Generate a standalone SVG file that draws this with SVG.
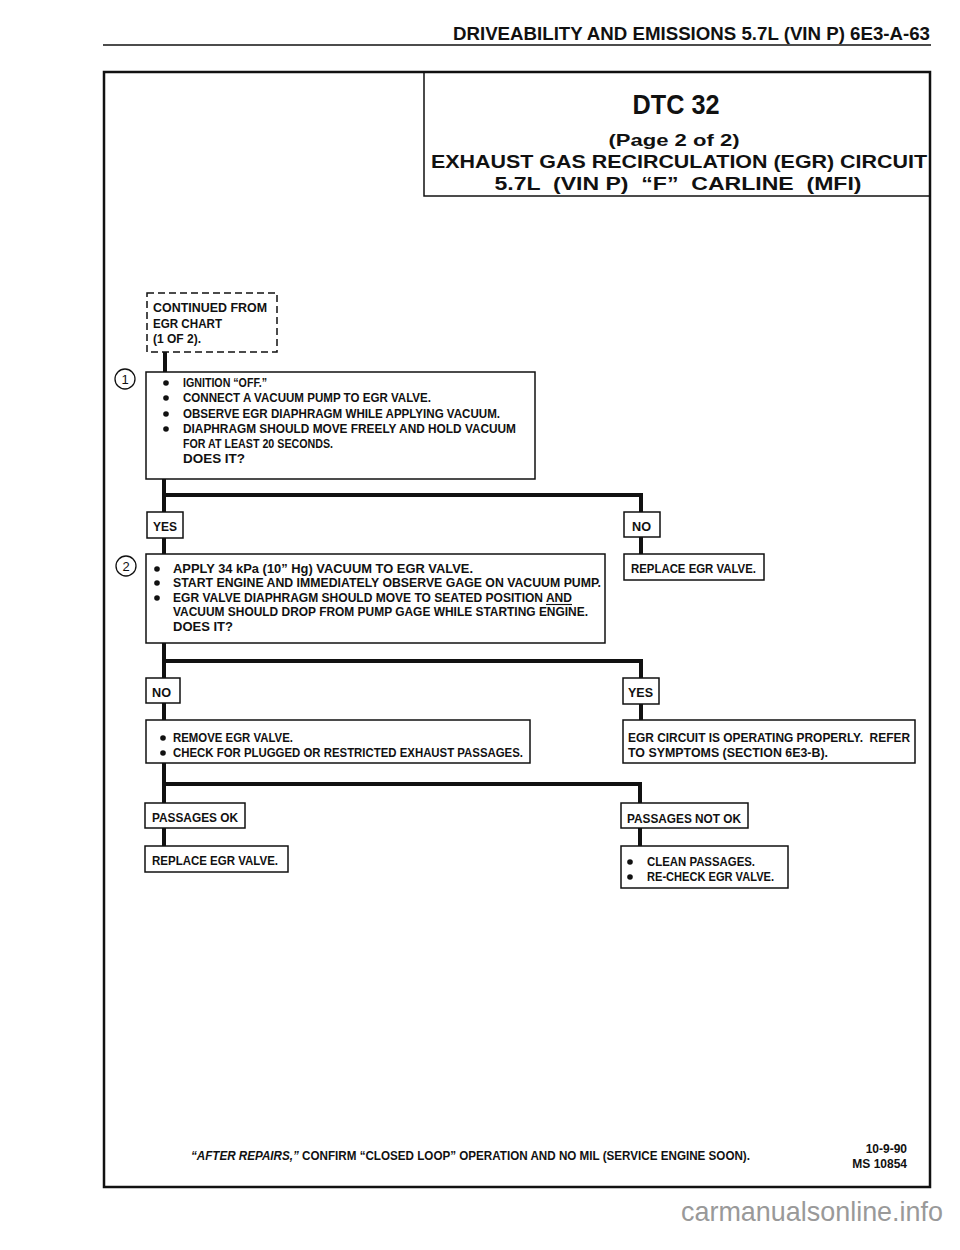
<svg xmlns="http://www.w3.org/2000/svg" width="960" height="1250" viewBox="0 0 960 1250">
<style>
.t{font-family:"Liberation Sans",Arial,sans-serif;font-weight:bold;font-size:12px;fill:#111}
.h{font-family:"Liberation Sans",Arial,sans-serif;font-weight:bold;fill:#111}
.box{fill:#fff;stroke:#111;stroke-width:1.5}
.dash{fill:none;stroke:#111;stroke-width:1.5;stroke-dasharray:7 4}
.wire{fill:none;stroke:#111;stroke-width:4;stroke-linejoin:miter}
.num{font-family:"Liberation Sans",Arial,sans-serif;font-size:13px;fill:#111}
.circ{fill:#fff;stroke:#111;stroke-width:1.3}
</style>
<rect width="960" height="1250" fill="#fff"/>
<g id="page-header">
<text class="h" x="453" y="40" font-size="17.5" textLength="477" lengthAdjust="spacingAndGlyphs">DRIVEABILITY AND EMISSIONS  5.7L  (VIN P)  6E3-A-63</text>
<line x1="103" y1="45" x2="931" y2="45" stroke="#111" stroke-width="1.6"/>
</g>
<g id="frame">
<rect x="104" y="72" width="826" height="1115" fill="none" stroke="#111" stroke-width="2.5"/>
</g>
<g id="title">
<rect x="424" y="72" width="506" height="124" fill="none" stroke="#111" stroke-width="1.5"/>
<text class="h" x="676" y="114" font-size="28" text-anchor="middle" textLength="87" lengthAdjust="spacingAndGlyphs">DTC 32</text>
<text class="h" x="674" y="146" font-size="17" text-anchor="middle" textLength="131" lengthAdjust="spacingAndGlyphs">(Page 2 of 2)</text>
<text class="h" x="679" y="168" font-size="19" text-anchor="middle" textLength="496" lengthAdjust="spacingAndGlyphs">EXHAUST GAS RECIRCULATION (EGR) CIRCUIT</text>
<text class="h" x="678" y="190" font-size="19" text-anchor="middle" textLength="367" lengthAdjust="spacingAndGlyphs" xml:space="preserve">5.7L  (VIN P)  “F”  CARLINE  (MFI)</text>
</g>
<g id="connectors">
<path class="wire" d="M165 352 V372"/>
<path class="wire" d="M164 479 V512 M164 495 H641 V512 M641 537 V554 M164 538 V554"/>
<path class="wire" d="M164 643 V678 M164 661 H641 V678 M641 704 V720 M164 703 V720"/>
<path class="wire" d="M164 763 V803 M164 784 H640 V803 M640 828 V846 M164 828 V846"/>
</g>
<g id="start">
<rect class="dash" x="147" y="293" width="130" height="59"/>
<text class="t" x="153" y="312" textLength="114" lengthAdjust="spacingAndGlyphs">CONTINUED FROM</text>
<text class="t" x="153" y="328" textLength="69" lengthAdjust="spacingAndGlyphs">EGR CHART</text>
<text class="t" x="153" y="343" textLength="48" lengthAdjust="spacingAndGlyphs">(1 OF 2).</text>
</g>
<g id="step1">
<circle class="circ" cx="125" cy="379" r="10"/>
<text class="num" x="125" y="383.5" text-anchor="middle">1</text>
<rect class="box" x="146" y="372" width="389" height="107"/>
<circle cx="166" cy="383" r="2.8" fill="#111"/>
<circle cx="166" cy="398" r="2.8" fill="#111"/>
<circle cx="166" cy="414" r="2.8" fill="#111"/>
<circle cx="166" cy="429" r="2.8" fill="#111"/>
<text class="t" x="183" y="387" textLength="84" lengthAdjust="spacingAndGlyphs">IGNITION “OFF.”</text>
<text class="t" x="183" y="402" textLength="248" lengthAdjust="spacingAndGlyphs">CONNECT A VACUUM PUMP TO EGR VALVE.</text>
<text class="t" x="183" y="418" textLength="317" lengthAdjust="spacingAndGlyphs">OBSERVE EGR DIAPHRAGM WHILE APPLYING VACUUM.</text>
<text class="t" x="183" y="433" textLength="333" lengthAdjust="spacingAndGlyphs">DIAPHRAGM SHOULD MOVE FREELY AND HOLD VACUUM</text>
<text class="t" x="183" y="448" textLength="150" lengthAdjust="spacingAndGlyphs">FOR AT LEAST 20 SECONDS.</text>
<text class="t" x="183" y="463" textLength="62" lengthAdjust="spacingAndGlyphs">DOES IT?</text>
</g>
<g id="yes1">
<rect class="box" x="147" y="512" width="36" height="26"/>
<text class="t" x="153" y="531" textLength="24" lengthAdjust="spacingAndGlyphs">YES</text>
</g>
<g id="no1">
<rect class="box" x="624" y="512" width="36" height="25"/>
<text class="t" x="632" y="531" textLength="19" lengthAdjust="spacingAndGlyphs">NO</text>
</g>
<g id="replace1">
<rect class="box" x="624" y="554" width="140" height="26"/>
<text class="t" x="631" y="573" textLength="125" lengthAdjust="spacingAndGlyphs">REPLACE EGR VALVE.</text>
</g>
<g id="step2">
<circle class="circ" cx="126" cy="566" r="10"/>
<text class="num" x="126" y="570.5" text-anchor="middle">2</text>
<rect class="box" x="146" y="554" width="459" height="89"/>
<circle cx="157" cy="569" r="2.8" fill="#111"/>
<circle cx="157" cy="583" r="2.8" fill="#111"/>
<circle cx="157" cy="598" r="2.8" fill="#111"/>
<text class="t" x="173" y="573" textLength="300" lengthAdjust="spacingAndGlyphs">APPLY 34 kPa (10” Hg) VACUUM TO EGR VALVE.</text>
<text class="t" x="173" y="587" textLength="428" lengthAdjust="spacingAndGlyphs">START ENGINE AND IMMEDIATELY OBSERVE GAGE ON VACUUM PUMP.</text>
<text class="t" x="173" y="602" textLength="399" lengthAdjust="spacingAndGlyphs">EGR VALVE DIAPHRAGM SHOULD MOVE TO SEATED POSITION AND</text>
<line x1="546" y1="604.5" x2="572" y2="604.5" stroke="#111" stroke-width="1.1"/>
<text class="t" x="173" y="616" textLength="415" lengthAdjust="spacingAndGlyphs">VACUUM SHOULD DROP FROM PUMP GAGE WHILE STARTING ENGINE.</text>
<text class="t" x="173" y="631" textLength="60" lengthAdjust="spacingAndGlyphs">DOES IT?</text>
</g>
<g id="no2">
<rect class="box" x="146" y="678" width="34" height="25"/>
<text class="t" x="152" y="697" textLength="19" lengthAdjust="spacingAndGlyphs">NO</text>
</g>
<g id="yes2">
<rect class="box" x="623" y="678" width="36" height="26"/>
<text class="t" x="628" y="697" textLength="25" lengthAdjust="spacingAndGlyphs">YES</text>
</g>
<g id="step3">
<rect class="box" x="146" y="720" width="384" height="43"/>
<circle cx="163" cy="738" r="2.8" fill="#111"/>
<circle cx="163" cy="753" r="2.8" fill="#111"/>
<text class="t" x="173" y="742" textLength="120" lengthAdjust="spacingAndGlyphs">REMOVE EGR VALVE.</text>
<text class="t" x="173" y="757" textLength="350" lengthAdjust="spacingAndGlyphs">CHECK FOR PLUGGED OR RESTRICTED EXHAUST PASSAGES.</text>
</g>
<g id="operating">
<rect class="box" x="623" y="720" width="292" height="43"/>
<text class="t" x="628" y="742" textLength="282" lengthAdjust="spacingAndGlyphs" xml:space="preserve">EGR CIRCUIT IS OPERATING PROPERLY.  REFER</text>
<text class="t" x="628" y="757" textLength="200" lengthAdjust="spacingAndGlyphs">TO SYMPTOMS (SECTION 6E3-B).</text>
</g>
<g id="passages-ok">
<rect class="box" x="145" y="803" width="100" height="25"/>
<text class="t" x="152" y="822" textLength="86" lengthAdjust="spacingAndGlyphs">PASSAGES OK</text>
</g>
<g id="replace2">
<rect class="box" x="145" y="846" width="143" height="26"/>
<text class="t" x="152" y="865" textLength="126" lengthAdjust="spacingAndGlyphs">REPLACE EGR VALVE.</text>
</g>
<g id="passages-not-ok">
<rect class="box" x="621" y="803" width="127" height="25"/>
<text class="t" x="627" y="823" textLength="114" lengthAdjust="spacingAndGlyphs">PASSAGES NOT OK</text>
</g>
<g id="clean">
<rect class="box" x="621" y="846" width="167" height="42"/>
<circle cx="630" cy="862" r="2.8" fill="#111"/>
<circle cx="630" cy="877" r="2.8" fill="#111"/>
<text class="t" x="647" y="866" textLength="108" lengthAdjust="spacingAndGlyphs">CLEAN PASSAGES.</text>
<text class="t" x="647" y="881" textLength="127" lengthAdjust="spacingAndGlyphs">RE-CHECK EGR VALVE.</text>
</g>
<g id="footer">
<text class="t" x="191" y="1160" textLength="559" lengthAdjust="spacingAndGlyphs"><tspan font-style="italic">“AFTER REPAIRS,”</tspan> CONFIRM “CLOSED LOOP” OPERATION AND NO MIL (SERVICE ENGINE SOON).</text>
<text class="t" x="907" y="1153" text-anchor="end">10-9-90</text>
<text class="t" x="907" y="1168" text-anchor="end">MS 10854</text>
</g>
<g id="watermark">
<text x="681" y="1221" font-family="Liberation Sans, Arial, sans-serif" font-size="28" fill="#999" textLength="262" lengthAdjust="spacingAndGlyphs">carmanualsonline.info</text>
</g>
</svg>
